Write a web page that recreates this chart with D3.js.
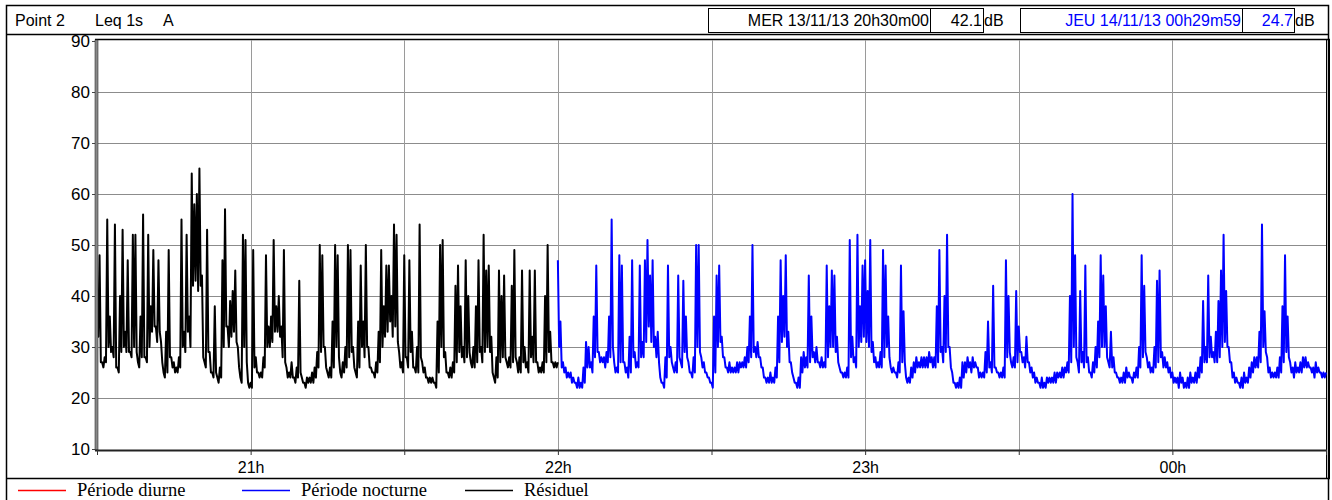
<!DOCTYPE html>
<html>
<head>
<meta charset="utf-8">
<script src="https://cdn.jsdelivr.net/npm/d3@7"></script>
<style>
  body { margin: 0; background: #fff; }
  svg { display: block; }
  text { font-family: "Liberation Sans", Arial, sans-serif; }
  .leg { font-family: "Liberation Serif", "Times New Roman", serif; font-size: 18.5px; }
</style>
</head>
<body>
<svg id="svg1"></svg>
<script>
// Leq 1s, read as max / min of every 30 s slice
var startTime = new Date(Date.UTC(2013, 10, 13, 20, 30, 0));
var switchTime = new Date(Date.UTC(2013, 10, 13, 22, 0, 0));
var endTime = new Date(Date.UTC(2013, 10, 14, 0, 30, 0));
var stepSeconds = 30;

// Résiduel 20h30 -> 22h00
var residuelMax = [
  40,48,27,28,55,36,30,54,26,40, 53,33,47,29,52,52,27,36,56,28,
  52,38,49,34,47,31,25,33,49,28, 27,26,28,55,33,52,36,64,58,60,
  65,44,27,53,29,25,38,24,26,47, 57,34,39,41,45,30,24,52,51,23,
  23,49,28,25,25,28,48,34,36,51, 38,40,34,49,26,25,27,24,26,43,
  24,23,24,24,25,26,29,50,48,30, 25,26,35,50,48,25,27,30,50,49,
  30,25,35,46,35,50,30,26,25,27, 33,49,38,46,46,40,54,52,29,27,
  48,28,47,33,26,30,54,27,26,24, 24,24,23,35,50,51,29,25,26,27,
  42,46,38,30,47,40,27,30,38,47, 30,52,45,46,32,24,28,45,40,44,
  27,28,42,49,27,28,45,30,27,45, 32,45,27,26,27,40,50,33,27,27,
  27
];
var residuelMin = [
  32,27,26,27,30,29,28,26,25,29, 30,29,29,28,30,29,26,28,28,27,
  30,33,34,31,33,27,24,25,28,26, 25,25,26,30,29,33,30,42,43,41,
  42,28,26,29,25,24,25,23,24,30, 34,30,32,33,31,26,23,30,27,22,
  22,26,25,24,24,26,30,30,31,33, 33,32,28,27,24,24,24,23,24,25,
  23,22,23,23,23,24,26,29,30,26, 24,24,26,30,28,24,25,26,28,29,
  26,24,26,30,28,30,26,25,24,25, 27,30,32,33,35,32,34,31,26,25,
  28,26,29,26,25,25,28,25,24,23, 23,23,22,25,30,28,25,24,24,25,
  27,29,28,27,28,29,26,26,27,29, 27,29,30,29,25,23,24,27,28,28,
  26,26,27,28,25,25,27,26,25,28, 27,27,25,25,25,27,29,27,26,26,
  26
];

// Période nocturne 22h00 -> 00h30
var nocturneMax = [
  47,35,27,26,25,25,24,23,24,23, 26,31,30,27,36,46,29,28,28,29,
  36,55,27,26,48,46,27,26,32,47, 29,27,46,31,47,51,44,47,32,33,
  24,23,28,46,30,26,27,44,27,43, 36,27,25,28,50,50,28,27,25,24,
  23,36,44,46,32,28,26,27,26,26, 27,27,27,28,30,36,50,30,31,28,
  26,24,24,25,24,26,36,47,40,48, 33,27,24,23,24,28,29,28,44,36,
  29,30,27,28,27,46,38,45,44,32, 26,25,25,26,51,32,28,52,38,46,
  47,41,51,31,28,27,29,49,46,36, 26,26,25,27,46,37,24,24,26,27,
  28,27,28,28,28,29,28,28,38,49, 30,40,52,30,25,23,23,24,27,27,
  28,27,28,27,26,25,25,29,35,27, 42,26,25,25,26,47,40,27,28,41,
  34,29,28,32,27,26,25,24,23,24, 23,24,24,24,25,25,25,26,26,27,
  40,60,48,27,41,29,46,28,25,27, 30,35,48,44,38,27,33,28,25,24,
  24,25,26,25,24,25,26,30,48,42, 28,27,26,30,43,45,29,28,27,26,
  25,24,24,25,24,23,24,25,24,25, 26,28,39,30,44,32,29,33,39,45,
  52,41,30,27,25,24,23,24,25,24, 26,27,28,28,33,54,37,28,26,25,
  25,26,28,38,48,36,27,26,27,26, 27,28,28,27,26,26,27,26,25,25,
  25
];
var nocturneMin = [
  30,26,25,24,24,23,23,22,22,22, 23,26,26,25,28,29,27,27,26,27,
  28,30,25,25,27,27,25,24,25,28, 26,26,28,28,31,34,31,30,28,27,
  23,22,24,28,27,25,25,28,26,29, 28,25,24,25,30,29,26,25,24,23,
  22,25,30,31,28,26,25,25,25,25, 25,26,26,26,27,28,29,28,28,26,
  24,23,23,23,23,24,27,31,32,30, 27,25,23,22,22,25,26,26,27,28,
  27,27,26,26,26,28,30,30,29,27, 25,24,24,24,28,27,26,30,31,32,
  31,30,29,27,26,26,26,28,30,28, 25,25,24,25,27,27,23,23,24,25,
  26,26,26,26,26,27,26,26,27,29, 27,29,30,26,23,22,22,22,24,25,
  26,25,26,26,24,24,24,25,26,25, 26,25,24,24,24,28,29,26,26,27,
  29,27,26,27,25,24,23,23,22,22, 22,23,23,23,23,24,24,24,25,25,
  27,30,28,25,27,26,27,25,24,25, 26,28,30,30,28,26,26,25,24,23,
  23,23,24,24,23,24,24,26,28,29, 26,25,25,26,27,28,26,26,25,24,
  23,23,22,23,22,22,22,23,23,23, 24,25,27,27,28,28,27,27,28,30,
  31,30,27,24,23,23,22,22,23,23, 24,25,26,26,27,30,29,25,24,24,
  24,24,25,27,29,28,25,24,25,25, 25,26,26,26,25,24,25,25,24,24,
  24
];

// Période diurne: no value in this window
var diurneMax = [];
var diurneMin = [];

var yTicks = [10, 20, 30, 40, 50, 60, 70, 80, 90];
var legendNames = ["Période diurne", "Période nocturne", "Résiduel"];
var legendColors = ["#ff0000", "#0000ff", "#000000"];

var width = 1332, height = 500;
var plotLeft = 97, plotRight = 1326, plotTop = 40, plotBottom = 450;

var svg = d3.select("#svg1").attr("width", width).attr("height", height);

var x = d3.scaleUtc().domain([startTime, endTime]).range([plotLeft, plotRight]);
var y = d3.scaleLinear().domain([10, 90]).range([plotBottom - 1, plotTop + 1]);

// max at the start of each slice, min half way through it
function toPoints(maxs, mins, t0) {
  var pts = [];
  maxs.forEach(function (v, i) {
    var t = t0.getTime() + i * stepSeconds * 1000;
    pts.push({ t: new Date(t), v: v });
    if (i < maxs.length - 1) pts.push({ t: new Date(t + stepSeconds * 500), v: mins[i] });
  });
  return pts;
}

// header
svg.append("rect").attr("x", 6.5).attr("y", 5.5).attr("width", 1322).attr("height", 520)
  .attr("fill", "none").attr("stroke", "#000").attr("stroke-width", 1.5);
svg.append("line").attr("x1", 6).attr("x2", 1329).attr("y1", 34.5).attr("y2", 34.5)
  .attr("stroke", "#000").attr("stroke-width", 1.5);

svg.append("text").attr("x", 15).attr("y", 26).attr("font-size", 16).text("Point 2");
svg.append("text").attr("x", 95).attr("y", 26).attr("font-size", 16).text("Leq 1s");
svg.append("text").attr("x", 163).attr("y", 26).attr("font-size", 16).text("A");

var boxes = [
  { x0: 708, x1: 930, txt: "MER 13/11/13 20h30m00", col: "#000" },
  { x0: 930, x1: 983, txt: "42.1", col: "#000" },
  { x0: 1020, x1: 1242, txt: "JEU 14/11/13 00h29m59", col: "#0000ff" },
  { x0: 1242, x1: 1294, txt: "24.7", col: "#0000ff" }
];
boxes.forEach(function (b) {
  svg.append("rect").attr("x", b.x0 + 0.5).attr("y", 8.5).attr("width", b.x1 - b.x0).attr("height", 24)
    .attr("fill", "none").attr("stroke", "#000").attr("stroke-width", 1);
  svg.append("text").attr("x", b.x1 - 1).attr("y", 26).attr("font-size", 16)
    .attr("text-anchor", "end").attr("fill", b.col).text(b.txt);
});
svg.append("text").attr("x", 984).attr("y", 26).attr("font-size", 16).text("dB");
svg.append("text").attr("x", 1295).attr("y", 26).attr("font-size", 16).text("dB");

// plot frame
svg.append("line").attr("x1", 95).attr("x2", 1330).attr("y1", 39.5).attr("y2", 39.5)
  .attr("stroke", "#000").attr("stroke-width", 1.5);
svg.append("line").attr("x1", 1326.5).attr("x2", 1326.5).attr("y1", 39).attr("y2", 478)
  .attr("stroke", "#000").attr("stroke-width", 1);
svg.append("line").attr("x1", 1329.5).attr("x2", 1329.5).attr("y1", 39).attr("y2", 478)
  .attr("stroke", "#000").attr("stroke-width", 1);

// grid
var halfHours = d3.utcMinute.every(30).range(startTime, d3.utcMinute.offset(endTime, 1));
svg.append("g").selectAll("line").data(yTicks.slice(1, -1)).enter().append("line")
  .attr("x1", plotLeft).attr("x2", plotRight)
  .attr("y1", function (d) { return Math.round(y(d)) + 0.5; })
  .attr("y2", function (d) { return Math.round(y(d)) + 0.5; })
  .attr("stroke", "#8c8c8c").attr("stroke-width", 1);
svg.append("g").selectAll("line").data(halfHours.slice(1, -1)).enter().append("line")
  .attr("x1", function (d) { return Math.round(x(d)) + 0.5; })
  .attr("x2", function (d) { return Math.round(x(d)) + 0.5; })
  .attr("y1", plotTop).attr("y2", plotBottom)
  .attr("stroke", "#9a9a9a").attr("stroke-width", 1);

// traces
var line = d3.line()
  .x(function (d) { return x(d.t); })
  .y(function (d) { return y(d.v); });

var plot = svg.append("g");
plot.append("path").datum(toPoints(diurneMax, diurneMin, startTime))
  .attr("d", line).attr("fill", "none").attr("stroke", legendColors[0]).attr("stroke-width", 1.4);
plot.append("path").datum(toPoints(residuelMax, residuelMin, startTime))
  .attr("d", line).attr("fill", "none").attr("stroke", legendColors[2])
  .attr("stroke-width", 2).attr("stroke-linejoin", "round");
plot.append("path").datum(toPoints(nocturneMax, nocturneMin, switchTime))
  .attr("d", line).attr("fill", "none").attr("stroke", legendColors[1])
  .attr("stroke-width", 2).attr("stroke-linejoin", "round");

// y axis
var yAxis = svg.append("g").attr("transform", "translate(96,0)")
  .call(d3.axisLeft(y).tickValues(yTicks).tickSize(4).tickPadding(2));
yAxis.select(".domain").remove();
yAxis.selectAll("text").attr("font-size", 17).attr("fill", "#000")
  .attr("font-family", "Liberation Sans, Arial, sans-serif");
yAxis.selectAll("line").attr("stroke", "#444");
svg.append("rect").attr("x", 95).attr("y", 40).attr("width", 3).attr("height", plotBottom - 40)
  .attr("fill", "#888").attr("stroke", "#333").attr("stroke-width", 0.6);

// x axis
var xAxis = svg.append("g").attr("transform", "translate(0," + plotBottom + ")")
  .call(d3.axisBottom(x).tickValues(halfHours).tickSize(5).tickPadding(7)
    .tickFormat(function (d) { return d.getUTCMinutes() === 0 ? d3.utcFormat("%Hh")(d) : ""; }));
xAxis.select(".domain").attr("d", "M95,0.5H1327").attr("stroke", "#222").attr("stroke-width", 2);
xAxis.selectAll("text").attr("font-size", 16).attr("fill", "#000")
  .attr("font-family", "Liberation Sans, Arial, sans-serif");
xAxis.selectAll("line").attr("stroke", "#333");

// separator + legend
svg.append("line").attr("x1", 6).attr("x2", 1330).attr("y1", 478.5).attr("y2", 478.5)
  .attr("stroke", "#000").attr("stroke-width", 1.5);
var legX = [18, 242, 465];
var leg = svg.append("g").selectAll("g").data(legendNames).enter().append("g")
  .attr("transform", function (d, i) { return "translate(" + legX[i] + ",490)"; });
leg.append("line").attr("x1", 0).attr("x2", 48).attr("y1", 0.5).attr("y2", 0.5)
  .attr("stroke", function (d, i) { return legendColors[i]; }).attr("stroke-width", 1.5);
leg.append("text").attr("class", "leg").attr("x", 59).attr("y", 6).text(function (d) { return d; });
</script>
</body>
</html>
